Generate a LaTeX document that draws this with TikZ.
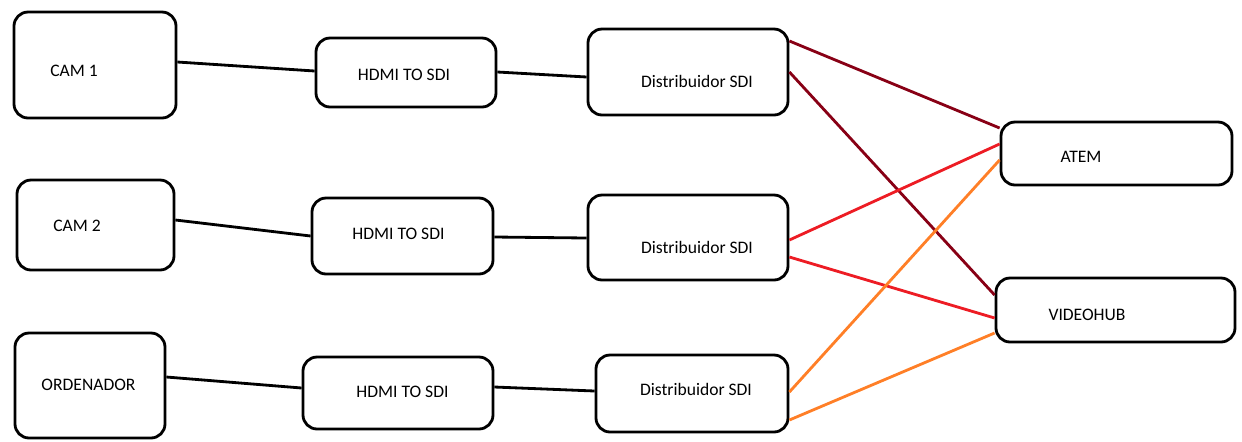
\documentclass[tikz,border=0pt]{standalone}
\usepackage{fontspec}
\setmainfont{Carlito}
\usetikzlibrary{calc}
\def\px{0.02cm}
\begin{document}
\begin{tikzpicture}[x=\px, y=-\px, line width=1.6pt,
        font=\fontsize{10}{12}\selectfont,
        caja/.style 2 args={draw, rounded corners=8pt, inner sep=0pt,
            minimum width=#1*\px, minimum height=#2*\px},
        texto/.style={shift={#1}}]
        % -------- colores --------
        \colorlet{cable}{black}
        \definecolor{senal1}{HTML}{880015}
        \definecolor{senal2}{HTML}{ED1C24}
        \definecolor{senal3}{HTML}{FF7F27}

        \useasboundingbox (0,0) rectangle (1242,441);

        % ======== fuentes ========
        \node[caja={162}{106}, label={[texto={(-21,6)}]center:CAM 1}] (cam1) at (95,65) {};
        \node[caja={157}{90}, label={[texto={(-18.5,1)}]center:CAM 2}] (cam2) at (95.5,225) {};
        \node[caja={150}{105}, label={[texto={(-1.5,-0.5)}]center:ORDENADOR}] (orden) at (90,385.5) {};

        % ======== conversores ========
        \node[caja={180}{69}, label={[texto={(-2,2.5)}]center:HDMI TO SDI}] (conv1) at (406,72.5) {};
        \node[caja={181}{76}, label={[texto={(-4,-2)}]center:HDMI TO SDI}] (conv2) at (402.5,236) {};
        \node[caja={190}{72}, label={[texto={(4.5,-1.5)}]center:HDMI TO SDI}] (conv3) at (398,393) {};

        % ======== distribuidores ========
        \node[caja={200}{86}, label={[texto={(9,9)}]center:Distribuidor SDI}] (dist1) at (688,72) {};
        \node[caja={200}{85}, label={[texto={(9,9.5)}]center:Distribuidor SDI}] (dist2) at (688,237.5) {};
        \node[caja={192}{77}, label={[texto={(4,-4.5)}]center:Distribuidor SDI}] (dist3) at (692,393.5) {};

        % ======== destinos ========
        \node[caja={231}{63}, label={[texto={(-35.5,3.5)}]center:ATEM}] (atem) at (1116.5,153.5) {};
        \node[caja={239}{64}, label={[texto={(-28.5,5)}]center:VIDEOHUB}] (hub) at (1115.5,310) {};

        % -------- cables HDMI / SDI --------
        \draw[cable] ($(cam1.east)+(0,-3)$) -- ($(conv1.west)+(0,-1.5)$);
        \draw[cable] ($(conv1.east)+(0,-0.5)$) -- ($(dist1.west)+(0,5)$);
        \draw[cable] ($(cam2.east)+(0,-5)$) -- ($(conv2.west)+(0,0)$);
        \draw[cable] ($(conv2.east)+(0,1)$) -- ($(dist2.west)+(0,0.5)$);
        \draw[cable] ($(orden.east)+(0,-8.5)$) -- ($(conv3.west)+(0,-5)$);
        \draw[cable] ($(conv3.east)+(0,-6)$) -- ($(dist3.west)+(0,-2.5)$);

        % -------- salidas de los distribuidores --------
        \draw[senal1] ($(dist1.east)+(0,-31)$) -- ($(atem.west)+(0,-25.5)$);
        \draw[senal1] ($(dist1.east)+(0,0)$) -- ($(hub.west)+(0,-15)$);
        \draw[senal2] ($(dist2.east)+(0,2.5)$) -- ($(atem.west)+(0,-9.5)$);
        \draw[senal2] ($(dist2.east)+(0,19.5)$) -- ($(hub.west)+(0,8)$);
        \draw[senal3] ($(dist3.east)+(0,-1.5)$) -- ($(atem.west)+(0,6.5)$);
        \draw[senal3] ($(dist3.east)+(0,26.5)$) -- ($(hub.west)+(0,23)$);
\end{tikzpicture}
\end{document}
